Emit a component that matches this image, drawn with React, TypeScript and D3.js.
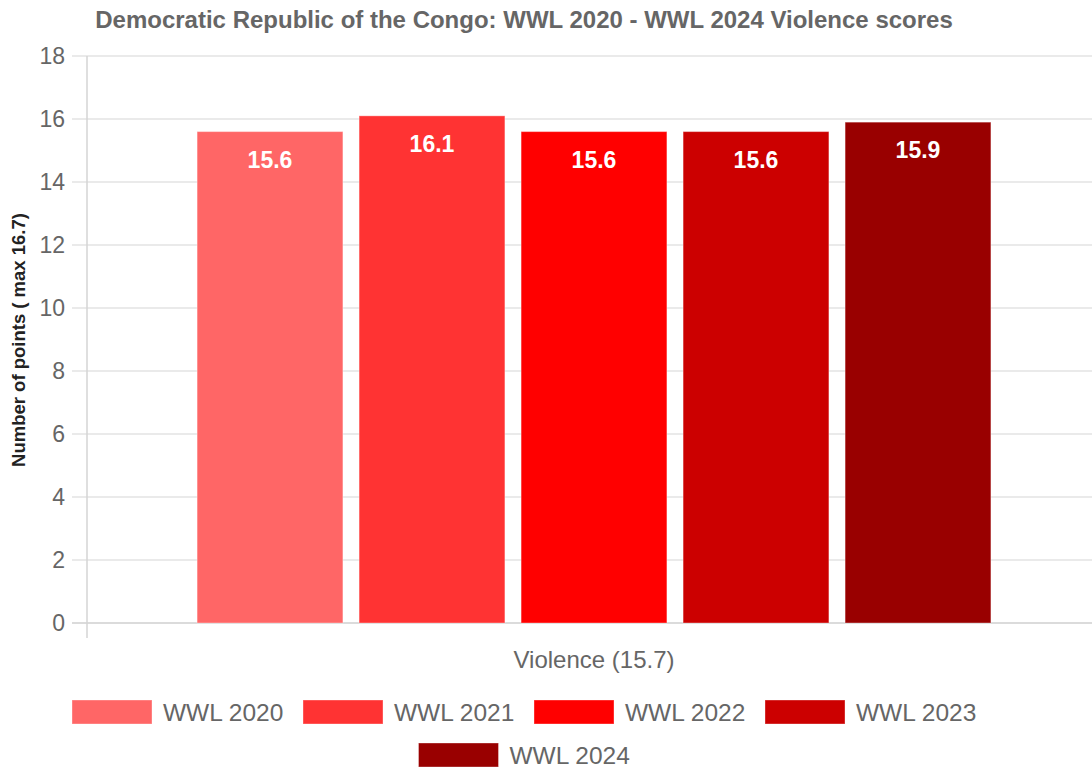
import React from "react";
import * as d3 from "d3";

const series = ["WWL 2020", "WWL 2021", "WWL 2022", "WWL 2023", "WWL 2024"];
const values = [15.6, 16.1, 15.6, 15.6, 15.9];
const colors = ["#ff6666", "#ff3333", "#ff0000", "#cc0000", "#990000"];
const yTicks = [0, 2, 4, 6, 8, 10, 12, 14, 16, 18];
const category = "Violence (15.7)";
const title = "Democratic Republic of the Congo: WWL 2020 - WWL 2024 Violence scores";
const yTitle = "Number of points ( max 16.7)";

const W = 1092;
const H = 769;
const FONT = "'Liberation Sans', Arial, Helvetica, sans-serif";

export default function App() {
  const plotLeft = 87;
  const plotRight = 1092;
  const y = d3.scaleLinear().domain([0, 18]).range([623, 56]);
  const x = d3
    .scaleBand<string>()
    .domain(series)
    .range([189, 999])
    .paddingInner(0.1)
    .paddingOuter(0.05);

  const legendRow1 = series.slice(0, 4);
  const legendRow2 = series.slice(4);
  const itemStep = 231;
  const legendCenter = 523.5;
  const row1Start = legendCenter - (legendRow1.length * itemStep - 21) / 2;
  const row2Start = legendCenter - (legendRow2.length * itemStep - 21) / 2;

  return (
    <svg
      width={W}
      height={H}
      style={{ position: "absolute", left: 0, top: 0, background: "#fff" }}
      fontFamily={FONT}
    >
      <text
        x={524}
        y={28}
        textAnchor="middle"
        fontSize={24}
        fontWeight="bold"
        fill="#666"
      >
        {title}
      </text>

      {yTicks.map((t) => (
        <g key={t}>
          <line
            x1={72}
            x2={plotRight}
            y1={y(t)}
            y2={y(t)}
            stroke={t === 0 ? "#cfcfcf" : "#e3e3e3"}
            strokeWidth={1.5}
          />
          <text
            x={65}
            y={y(t)}
            dy="0.35em"
            textAnchor="end"
            fontSize={23}
            fill="#666"
          >
            {t}
          </text>
        </g>
      ))}
      <line x1={plotLeft} x2={plotLeft} y1={56} y2={638} stroke="#d4d4d4" strokeWidth={1.5} />

      <text
        transform={`translate(25,340) rotate(-90)`}
        textAnchor="middle"
        fontSize={18.5}
        fontWeight="bold"
        fill="#222"
      >
        {yTitle}
      </text>

      {series.map((s, i) => (
        <g key={s}>
          <rect
            x={x(s)}
            y={y(values[i])}
            width={x.bandwidth()}
            height={y(0) - y(values[i])}
            fill={colors[i]}
            stroke="rgba(255,255,255,0.35)"
            strokeWidth={1}
          />
          <text
            x={(x(s) as number) + x.bandwidth() / 2}
            y={y(values[i]) + 36}
            textAnchor="middle"
            fontSize={23}
            fontWeight="bold"
            fill="#fff"
          >
            {values[i].toFixed(1)}
          </text>
        </g>
      ))}

      <text x={594} y={668} textAnchor="middle" fontSize={24} fill="#666">
        {category}
      </text>

      {[legendRow1, legendRow2].map((row, r) =>
        row.map((s, j) => {
          const idx = series.indexOf(s);
          const start = (r === 0 ? row1Start : row2Start) + j * itemStep;
          const cy = r === 0 ? 712 : 755;
          return (
            <g key={s}>
              <rect
                x={start}
                y={cy - 12}
                width={80}
                height={24}
                fill={colors[idx]}
                stroke="rgba(255,255,255,0.35)"
              />
              <text x={start + 91} y={cy} dy="0.35em" fontSize={24.5} fill="#666">
                {s}
              </text>
            </g>
          );
        })
      )}
    </svg>
  );
}
